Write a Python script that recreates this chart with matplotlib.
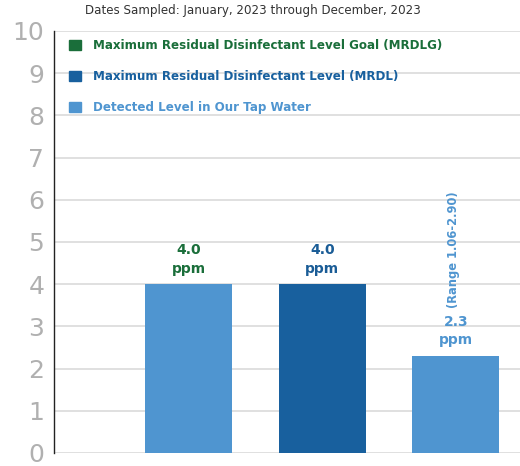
import matplotlib
matplotlib.use('Agg')
import matplotlib.pyplot as plt
from matplotlib.patches import Patch

### data
categories = ['MRDLG', 'MRDL', 'Detected']
values = [4.0, 4.0, 2.3]
value_labels = ['4.0\nppm', '4.0\nppm', '2.3\nppm']
bar_colors = ['#4f95d0', '#18609e', '#4f95d0']
label_colors = ['#1a6e3a', '#1a5c96', '#4f95d0']
legend_names = ['Maximum Residual Disinfectant Level Goal (MRDLG)',
                'Maximum Residual Disinfectant Level (MRDL)',
                'Detected Level in Our Tap Water']
legend_colors = ['#1a6e3a', '#18609e', '#4f95d0']
range_note = '(Range 1.06-2.90)'
title = 'Dates Sampled: January, 2023 through December, 2023'

### figure
fig = plt.figure(figsize=(5.2, 4.66), dpi=100)
ax = fig.add_axes([0.1038, 0.028, 0.8962, 0.9055])

xpos = list(range(len(categories)))
ax.bar(xpos, values, width=0.65, color=bar_colors, zorder=2)

### value labels above bars
for x, v, lab, c in zip(xpos, values, value_labels, label_colors):
    ax.text(x, v + 0.2, lab, ha='center', va='bottom', color=c,
            fontsize=10, fontweight='bold', linespacing=1.4)

### rotated range note over the last bar
ax.text(xpos[-1] - 0.02, values[-1] + 1.14, range_note, rotation=90,
        ha='center', va='bottom', color=label_colors[-1],
        fontsize=8.3, fontweight='bold')

### axes styling
ax.set_xlim(-1.007, 2.48)
ax.set_ylim(0, 10)
ax.set_yticks(range(0, 11))
ax.set_xticks([])
ax.tick_params(axis='y', length=0, pad=7, labelsize=18, labelcolor='#b0b0b0')
for lab in ax.get_yticklabels():
    lab.set_family(['Liberation Sans Narrow', 'DejaVu Sans'])
ax.grid(axis='y', color='#e0e0e0', linewidth=1.4, zorder=0)
for s in ['top', 'right', 'bottom']:
    ax.spines[s].set_visible(False)
ax.spines['left'].set_color('#222222')
ax.spines['left'].set_linewidth(1.0)
ax.spines['left'].set_zorder(3)

### legend
handles = [Patch(color=c) for c in legend_colors]
leg = ax.legend(handles, legend_names, loc='upper left',
                bbox_to_anchor=(0.01, 1.006), frameon=False,
                prop={'size': 8.6, 'weight': 'bold'},
                handlelength=1.0, handleheight=0.9, handletextpad=1.0,
                labelspacing=1.5)
for t, c in zip(leg.get_texts(), legend_colors):
    t.set_color(c)

### title
fig.text(0.487, 0.978, title, ha='center', va='center', fontsize=8.6,
         color='#333333')

plt.savefig('out.png', dpi=100)
